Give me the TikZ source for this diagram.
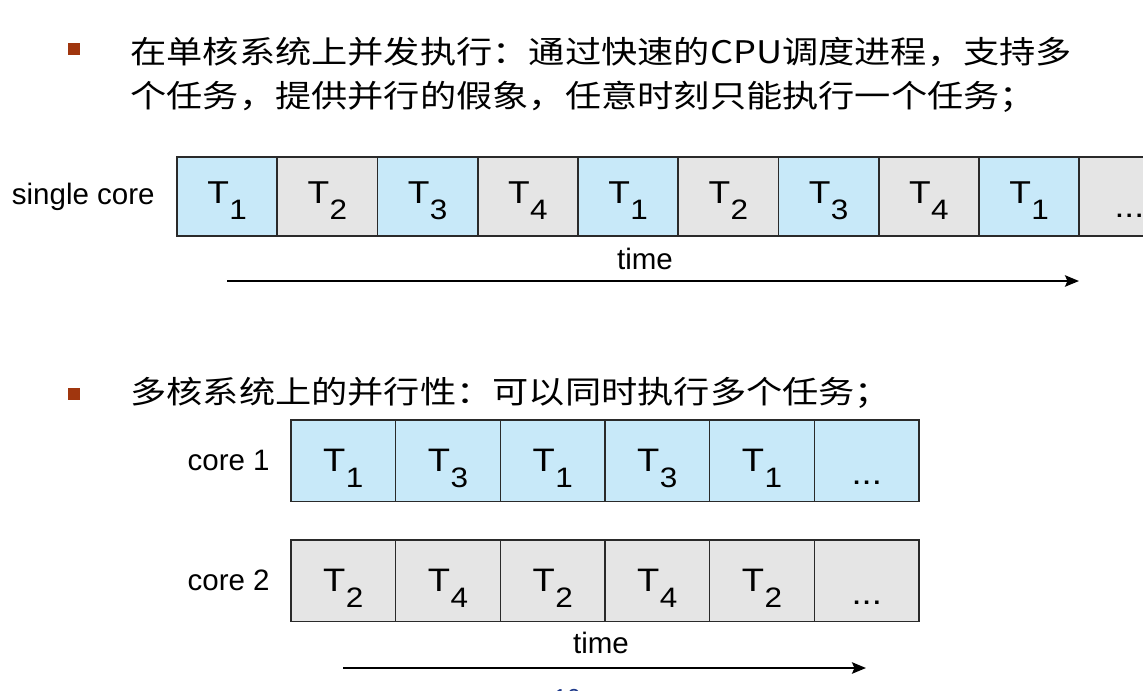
\documentclass[tikz,border=0pt]{standalone}
\usepackage{fontspec}
\setmainfont{Liberation Sans}
\newfontfamily\cjk[FakeStretch=1.165]{Noto Sans CJK SC}
\newfontfamily\tfam[FakeStretch=1.12]{Liberation Sans}
\usetikzlibrary{arrows.meta}
\definecolor{cellblue}{HTML}{C8E9F9}
\definecolor{cellgray}{HTML}{E5E5E5}
\definecolor{bulletred}{HTML}{A0360E}
\definecolor{edgegray}{HTML}{2A2A2A}
\definecolor{pagenum}{HTML}{1F3A8A}
\newcommand{\tk}[1]{T\kern0.3pt\raisebox{-9pt}{\fontsize{16}{16}\selectfont #1}}
\newcommand{\celldots}{\raisebox{-7.5pt}{...}}
\begin{document}
\begin{tikzpicture}[x=0.02cm,y=-0.02cm,
  cjktext/.style={font=\cjk\fontsize{17.7}{20}\selectfont, inner sep=0, anchor=west},
  bullet/.style={fill=bulletred, minimum size=0.24cm, inner sep=0, outer sep=0},
  lab/.style={font=\fontsize{16.8}{18}\selectfont, inner sep=0},
  sccell/.style={draw=edgegray, line width=0.9pt, minimum width=2.005cm, minimum height=1.58cm,
    inner sep=0, outer sep=0, anchor=north west, text height=18.5pt, text depth=10pt,
    font=\tfam\fontsize{18}{20}\selectfont},
  mccell/.style={draw=edgegray, line width=0.9pt, minimum width=2.0933cm, minimum height=1.63cm,
    inner sep=0, outer sep=0, anchor=north west, text height=22pt, text depth=10pt,
    font=\tfam\fontsize{18.5}{20}\selectfont},
  timearrow/.style={line width=1.3pt, -{Stealth[length=8pt,width=6.5pt,inset=1.5pt]}}
]
\useasboundingbox (0,0) rectangle (1143,690);
\begin{scope}
\clip (0,0) rectangle (1143,690);
% bullets and text
\node[bullet] (b1) at (74,49) {};
\node[cjktext] (l1) at (130,52) {在单核系统上并发执行：通过快速的CPU调度进程，支持多};
\node[cjktext] (l2) at (130,97) {个任务，提供并行的假象，任意时刻只能执行一个任务；};
\node[bullet] (b2) at (74,394) {};
\node[cjktext] (l3) at (130,393) {多核系统上的并行性：可以同时执行多个任务；};
% single core
\foreach \i/\c/\t in {1/cellblue/1,2/cellgray/2,3/cellblue/3,4/cellgray/4,5/cellblue/1,6/cellgray/2,7/cellblue/3,8/cellgray/4,9/cellblue/1}
  \node[sccell, fill=\c] (s\i) at ({177+(\i-1)*100.25},157) {\tk{\t}};
\node[sccell, fill=cellgray] (s10) at ({177+9*100.25},157) {\celldots};
\node[lab, anchor=east] (lsc) at ([xshift=-0.44cm]s1.west) {single core};
\node[lab] (time1) at (645,259) {time};
\coordinate (a1s) at (227,281);
\coordinate (a1e) at (1079,281);
\draw[timearrow] (a1s) -- (a1e);
% multi core
\foreach \i/\t in {1/1,2/3,3/1,4/3,5/1}
  \node[mccell, fill=cellblue] (m\i) at ({291+(\i-1)*104.67},420) {\tk{\t}};
\node[mccell, fill=cellblue] (m6) at ({291+5*104.67},420) {\celldots};
\foreach \i/\t in {1/2,2/4,3/2,4/4,5/2}
  \node[mccell, fill=cellgray] (n\i) at ({291+(\i-1)*104.67},540) {\tk{\t}};
\node[mccell, fill=cellgray] (n6) at ({291+5*104.67},540) {\celldots};
\node[lab, anchor=east] (lc1) at ([xshift=-0.42cm]m1.west) {core 1};
\node[lab, anchor=east] (lc2) at ([xshift=-0.42cm]n1.west) {core 2};
\node[lab] (time2) at (601,643) {time};
\coordinate (a2s) at (343,668);
\coordinate (a2e) at (866,668);
\draw[timearrow] (a2s) -- (a2e);
\node[font=\fontsize{14}{14}\selectfont, text=pagenum, inner sep=0] (pg) at (567,698) {10};
\end{scope}
\end{tikzpicture}
\end{document}
